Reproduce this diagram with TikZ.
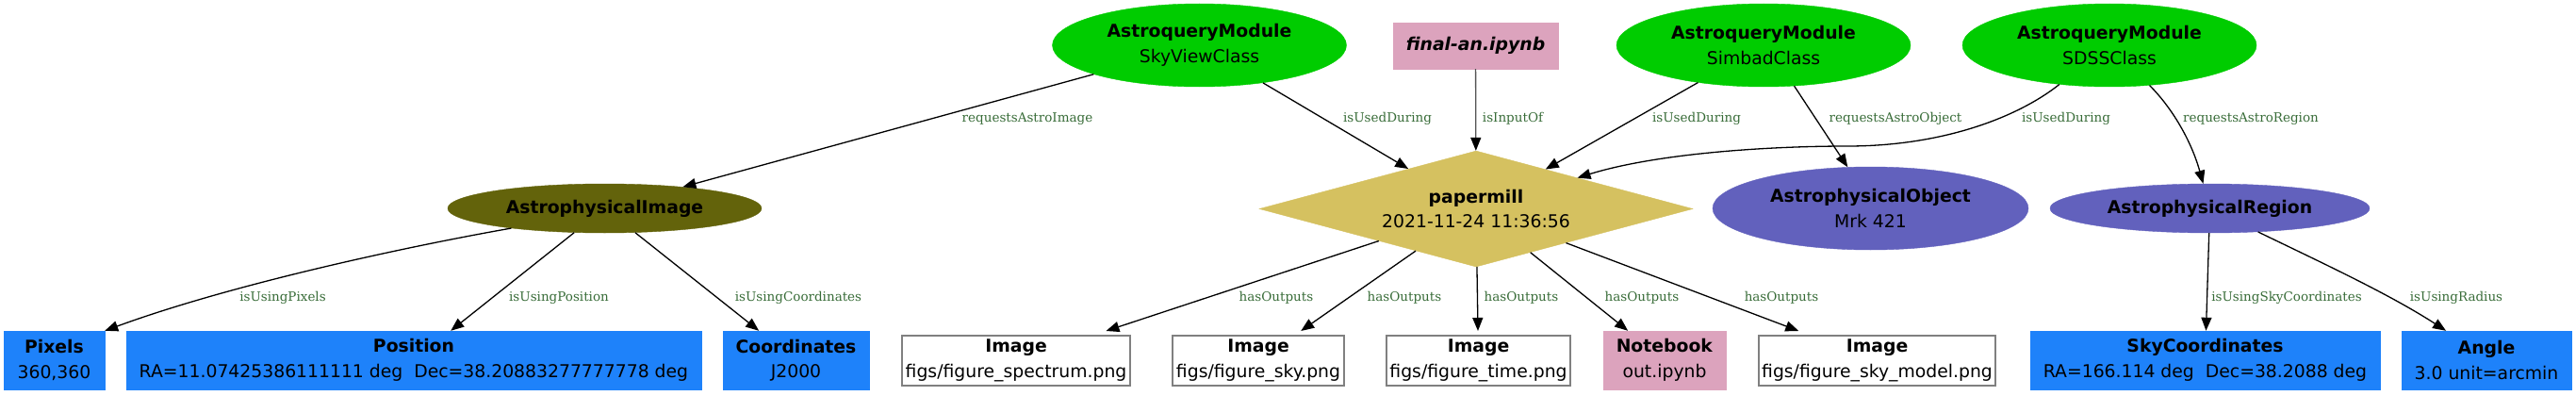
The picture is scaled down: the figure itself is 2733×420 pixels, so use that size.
\documentclass[tikz,border=0pt]{standalone}
\usepackage{fontspec}
\setmainfont{DejaVu Sans}
\newfontfamily\lblfont{DejaVu Serif}
\usetikzlibrary{shapes.geometric,arrows.meta}
\definecolor{grn}{RGB}{0,204,0}
\definecolor{olv}{RGB}{99,99,11}
\definecolor{pur}{RGB}{98,97,189}
\definecolor{gold}{RGB}{213,193,96}
\definecolor{pnk}{RGB}{220,163,189}
\definecolor{blu}{RGB}{30,130,250}
\definecolor{lblc}{RGB}{56,108,56}
\definecolor{gry}{RGB}{128,128,128}
\definecolor{edgegray}{RGB}{85,85,85}
\begin{document}
\begin{tikzpicture}[x=1pt,y=-1pt,
  base/.style={inner sep=0pt,align=center,font=\fontsize{18.8}{26.5}\selectfont},
  greenell/.style={base,ellipse,fill=grn,draw=grn,minimum width=312pt,minimum height=88pt},
  olvell/.style={base,ellipse,fill=olv,draw=olv,minimum height=52pt},
  purell/.style={base,ellipse,fill=pur,draw=pur},
  bluebox/.style={base,rectangle,fill=blu,draw=blu,minimum height=62pt},
  whitebox/.style={base,rectangle,fill=white,draw=gry,line width=1.5pt,minimum height=53pt,outer sep=5pt},
  pinkbox/.style={base,rectangle,fill=pnk,draw=pnk},
  pmdiamond/.style={base,diamond,fill=gold,draw=gold,aspect=3.74,minimum width=460pt,minimum height=123pt},
  lbl/.style={inner sep=0pt,text=lblc,font=\lblfont\fontsize{13.5}{16}\selectfont},
  edge/.style={line width=1.3pt,-{Triangle[length=14pt,width=11pt]}}
]
\useasboundingbox (0,0) rectangle (2733,420);

% top row
\node[greenell] (sv) at (1272.5,48) {\textbf{AstroqueryModule}\\SkyViewClass};
\node[pinkbox,minimum width=175pt,minimum height=49pt] (fa) at (1565.5,48.5) {\textbf{\itshape final-an.ipynb}};
\node[greenell] (sim) at (1871,48) {\textbf{AstroqueryModule}\\SimbadClass};
\node[greenell] (sdss) at (2238,48) {\textbf{AstroqueryModule}\\SDSSClass};

% middle row
\node[olvell,minimum width=333pt] (img) at (641.5,221) {\textbf{AstrophysicalImage}};
\node[pmdiamond] (pm) at (1566,221.5) {\textbf{papermill}\\2021-11-24 11:36:56};
\node[purell,minimum width=335pt,minimum height=88pt] (obj) at (1984.5,221) {\textbf{AstrophysicalObject}\\Mrk 421};
\node[purell,minimum width=339pt,minimum height=52pt] (reg) at (2344.5,221) {\textbf{AstrophysicalRegion}};

% bottom row
\node[bluebox,minimum width=107pt] (pix) at (57.5,382) {\textbf{Pixels}\\360,360};
\node[bluebox,minimum width=610pt] (pos) at (439,382) {\textbf{Position}\\RA=11.07425386111111 deg\ \ Dec=38.20883277777778 deg};
\node[bluebox,minimum width=155pt] (coo) at (844.5,382) {\textbf{Coordinates}\\J2000};
\node[whitebox,minimum width=242pt] (spec) at (1078,382.5) {\textbf{Image}\\figs/figure\_spectrum.png};
\node[whitebox,minimum width=182pt] (sky) at (1335,382.5) {\textbf{Image}\\figs/figure\_sky.png};
\node[whitebox,minimum width=195pt] (tim) at (1568.5,382.5) {\textbf{Image}\\figs/figure\_time.png};
\node[pinkbox,minimum width=130pt,minimum height=62pt] (nb) at (1766,382) {\textbf{Notebook}\\out.ipynb};
\node[whitebox,minimum width=251pt] (skm) at (1991.5,382.5) {\textbf{Image}\\figs/figure\_sky\_model.png};
\node[bluebox,minimum width=371pt] (skc) at (2339.5,382) {\textbf{SkyCoordinates}\\RA=166.114 deg\ \ Dec=38.2088 deg};
\node[bluebox,minimum width=180pt] (ang) at (2638,382) {\textbf{Angle}\\3.0 unit=arcmin};

% edges
\draw[edge] (sv) -- (img);
\draw[edge] (sv) -- (pm);
\draw[edge,draw=edgegray,-{Triangle[length=14pt,width=11pt,color=black]}] (fa) -- (pm);
\draw[edge] (sim) -- (pm);
\draw[edge] (sim.-53) -- (obj.119);
\draw[edge] (sdss.-142) .. controls (2140,125) and (2060,155) .. (1960,155)
  .. controls (1880,155) and (1760,162) .. (pm.17);
\draw[edge] (sdss.-45) .. controls (2305,115) and (2325,150) .. (reg.105);
\draw[edge] (img.192) .. controls (440,260) and (250,300) .. (pix.north east);
\draw[edge] (img) -- (pos);
\draw[edge] (img) -- (coo);
\draw[edge] (pm) -- (spec);
\draw[edge] (pm) -- (sky);
\draw[edge] (pm) -- (tim);
\draw[edge] (pm) -- (nb);
\draw[edge] (pm) -- (skm);
\draw[edge] (reg) -- (skc);
\draw[edge] (reg.-26) .. controls (2466,280) and (2535,312) .. (ang.144);

% edge labels
\node[lbl] (l1) at (1090,126) {requestsAstroImage};
\node[lbl] (l2) at (1472,126) {isUsedDuring};
\node[lbl] (l3) at (1605,126) {isInputOf};
\node[lbl] (l4) at (1800,126) {isUsedDuring};
\node[lbl] (l5) at (2011,126) {requestsAstroObject};
\node[lbl] (l6) at (2192,126) {isUsedDuring};
\node[lbl] (l7) at (2388,126) {requestsAstroRegion};
\node[lbl] (l8) at (300,316) {isUsingPixels};
\node[lbl] (l9) at (593,316) {isUsingPosition};
\node[lbl] (l10) at (847,316) {isUsingCoordinates};
\node[lbl] (l11) at (1354,316) {hasOutputs};
\node[lbl] (l12) at (1490,316) {hasOutputs};
\node[lbl] (l13) at (1614,316) {hasOutputs};
\node[lbl] (l14) at (1742,316) {hasOutputs};
\node[lbl] (l15) at (1890,316) {hasOutputs};
\node[lbl] (l16) at (2426,316) {isUsingSkyCoordinates};
\node[lbl] (l17) at (2606,316) {isUsingRadius};
\end{tikzpicture}
\end{document}
